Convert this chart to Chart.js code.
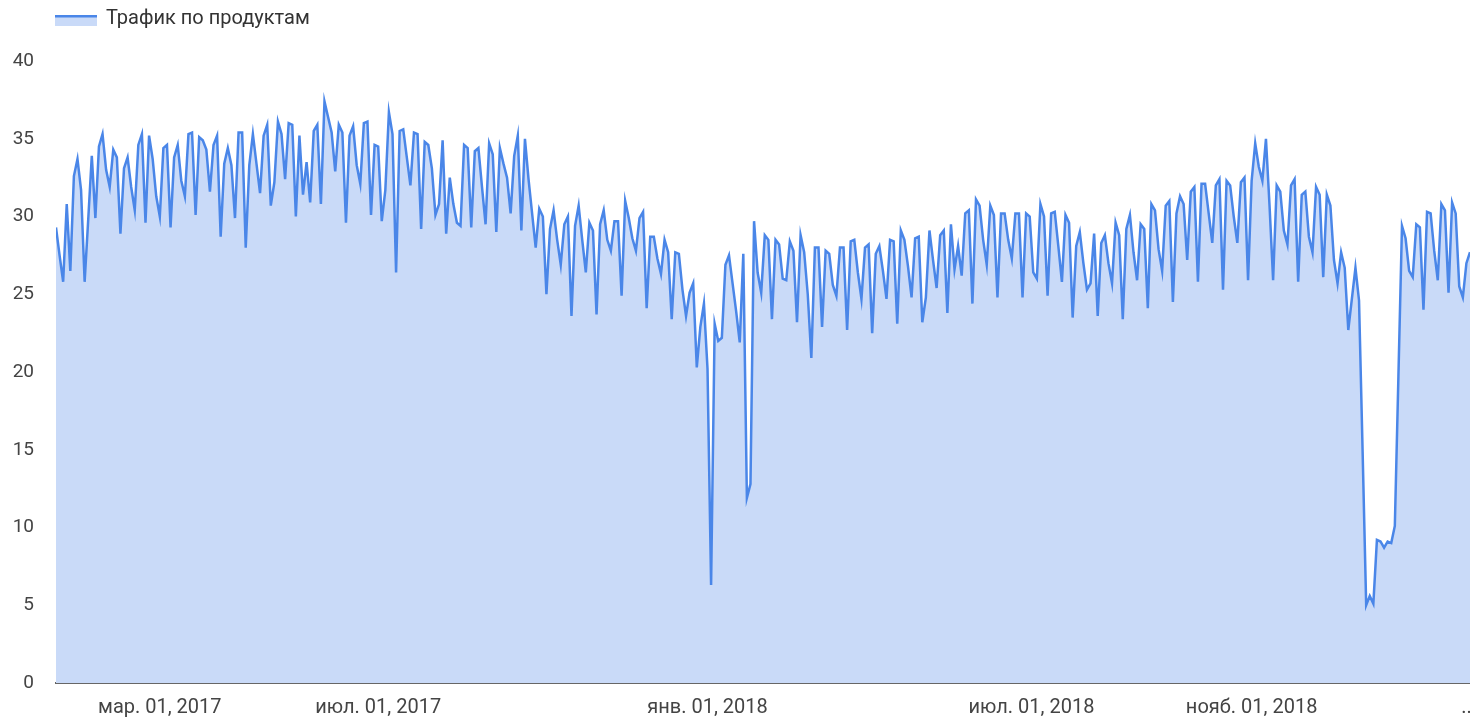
<!DOCTYPE html>
<html>
<head>
<meta charset="utf-8">
<script src="https://cdn.jsdelivr.net/npm/chart.js@4.4.1/dist/chart.umd.min.js"></script>
<style>
  html, body { margin: 0; padding: 0; background: #fff; }
  #wrap { width: 1470px; height: 717px; }
</style>
</head>
<body>
<div id="wrap"><canvas id="traffic"></canvas></div>
<script>
// one point every 2 days, first point = 02.01.2017
const stepDays = 2;
const seriesName = 'Трафик по продуктам';

const traffic = [
  29.3, 27.5, 25.8, 30.8, 26.5, 32.6, 33.7, 31.7, 25.8, 29.8,
  33.9, 29.9, 34.5, 35.3, 33.0, 31.9, 34.3, 33.8, 28.9, 33.1,
  33.8, 31.9, 30.4, 34.6, 35.3, 29.6, 35.2, 33.7, 31.3, 30.0,
  34.4, 34.6, 29.3, 33.8, 34.6, 32.3, 31.3, 35.3, 35.4, 30.1,
  35.1, 34.9, 34.3, 31.6, 34.6, 35.2, 28.7, 33.4, 34.4, 33.3,
  29.9, 35.4, 35.4, 28.0, 33.3, 35.3, 33.4, 31.5, 35.2, 35.9,
  30.7, 32.2, 36.1, 35.3, 32.4, 36.0, 35.9, 30.0, 35.2, 31.4,
  33.5, 30.9, 35.5, 35.9, 30.8, 37.4, 36.4, 35.4, 32.9, 35.9,
  35.4, 29.6, 35.2, 35.8, 33.3, 32.1, 36.0, 36.1, 30.1, 34.6,
  34.5, 29.7, 31.7, 36.7, 35.3, 26.4, 35.5, 35.6, 33.8, 32.0,
  35.4, 35.3, 29.2, 34.8, 34.6, 33.1, 30.1, 30.8, 34.9, 28.9,
  32.5, 30.8, 29.6, 29.4, 34.6, 34.4, 29.3, 34.2, 34.4, 31.9,
  29.5, 34.7, 34.0, 29.0, 34.4, 33.4, 32.5, 30.2, 33.9, 35.2,
  29.1, 35.0, 32.4, 30.2, 28.0, 30.5, 30.0, 25.0, 29.2, 30.4,
  28.5, 26.9, 29.5, 30.0, 23.6, 29.4, 30.7, 28.5, 26.4, 29.6,
  29.1, 23.7, 29.5, 30.4, 28.5, 27.8, 29.7, 29.7, 24.9, 31.0,
  29.9, 28.6, 27.8, 29.9, 30.3, 24.1, 28.7, 28.7, 27.3, 26.3,
  28.5, 27.7, 23.4, 27.7, 27.6, 25.3, 23.6, 25.1, 25.7, 20.3,
  22.9, 24.4, 20.2, 6.3, 23.1, 22.0, 22.2, 26.9, 27.5, 25.7,
  23.9, 21.9, 27.6, 11.9, 12.8, 29.7, 26.4, 25.1, 28.8, 28.5,
  23.4, 28.5, 28.2, 26.0, 25.9, 28.4, 27.8, 23.2, 28.8, 27.7,
  25.0, 20.9, 28.0, 28.0, 22.9, 27.8, 27.6, 25.6, 24.9, 28.0,
  28.0, 22.7, 28.4, 28.5, 26.4, 24.7, 28.0, 28.2, 22.5, 27.6,
  28.1, 26.5, 24.7, 28.5, 28.4, 23.1, 29.1, 28.5, 26.8, 24.8,
  28.6, 28.7, 23.2, 24.8, 29.1, 27.2, 25.4, 28.8, 29.1, 23.8,
  29.5, 26.6, 28.1, 26.2, 30.2, 30.4, 24.4, 31.1, 30.7, 28.5,
  26.9, 30.7, 30.1, 24.8, 30.2, 30.2, 28.5, 27.3, 30.2, 30.2,
  24.8, 30.2, 30.0, 26.4, 26.0, 30.8, 30.0, 24.9, 30.2, 30.3,
  28.1, 25.8, 30.1, 29.6, 23.5, 28.1, 29.0, 27.0, 25.3, 25.7,
  28.9, 23.6, 28.3, 28.8, 27.0, 25.7, 29.6, 28.8, 23.4, 29.2,
  30.1, 27.7, 25.9, 29.5, 29.2, 24.1, 30.8, 30.4, 27.9, 26.5,
  30.7, 31.0, 24.5, 30.2, 31.3, 30.8, 27.2, 31.6, 31.9, 25.8,
  32.1, 32.1, 30.2, 28.3, 32.0, 32.4, 25.3, 32.3, 32.0, 30.0,
  28.3, 32.2, 32.5, 25.9, 32.3, 34.7, 33.2, 32.3, 35.0, 30.7,
  25.9, 32.0, 31.6, 29.1, 28.2, 32.0, 32.4, 25.8, 31.4, 31.6,
  28.7, 27.7, 31.9, 31.4, 26.1, 31.4, 30.7, 27.2, 25.7, 27.7,
  26.7, 22.7, 24.7, 26.7, 24.6, 14.9, 5.0, 5.6, 5.1, 9.2,
  9.1, 8.7, 9.1, 9.0, 10.1, 19.7, 29.4, 28.6, 26.5, 26.1,
  29.5, 29.3, 24.0, 30.3, 30.2, 27.8, 25.9, 30.8, 30.4, 25.1,
  30.9, 30.2, 25.5, 24.8, 27.0, 27.7
];

// x tick positions in days from the first point, and their labels
const tickDays = [58, 180, 364, 545, 668, 788];
const tickLabels = ['мар. 01, 2017', 'июл. 01, 2017', 'янв. 01, 2018', 'июл. 01, 2018', 'нояб. 01, 2018', '..'];

const lineColor = '#4a86e8';
const fillColor = '#c9daf8';
const textColor = '#444';

const points = traffic.map((v, i) => ({ x: i * stepDays, y: v }));

// legend drawn by hand: filled swatch with a line on top, like Data Studio
const topLegend = {
    id: 'topLegend',
    afterDraw(chart) {
        const ctx = chart.ctx;
        const ds = chart.data.datasets[0];
        ctx.save();
        ctx.fillStyle = ds.backgroundColor;
        ctx.fillRect(55, 15, 42, 11);
        ctx.strokeStyle = ds.borderColor;
        ctx.lineWidth = 2.5;
        ctx.beginPath();
        ctx.moveTo(55, 16.2);
        ctx.lineTo(97, 16.2);
        ctx.stroke();
        ctx.fillStyle = '#333';
        ctx.font = '20px Roboto';
        ctx.textBaseline = 'middle';
        ctx.fillText(ds.label, 106, 19);
        ctx.restore();
    }
};

new Chart(document.getElementById('traffic'), {
    type: 'line',
    data: {
        datasets: [{
            label: seriesName,
            data: points,
            borderColor: lineColor,
            backgroundColor: fillColor,
            borderWidth: 2.5,
            fill: 'origin',
            pointRadius: 0,
            tension: 0
        }]
    },
    options: {
        responsive: true,
        maintainAspectRatio: false,
        animation: false,
        layout: { padding: { top: 61, left: 0, right: 0, bottom: 0 } },
        plugins: {
            legend: { display: false },
            tooltip: { enabled: false }
        },
        scales: {
            x: {
                type: 'linear',
                min: 0,
                max: (traffic.length - 1) * stepDays,
                afterBuildTicks: (scale) => {
                    scale.ticks = tickDays.map(d => ({ value: d }));
                },
                afterFit: (scale) => {
                    scale.height = 34;
                    // the last label is cut at the edge in the original, no extra room for it
                    scale.paddingLeft = 0;
                    scale.paddingRight = 0;
                },
                grid: { display: false, drawTicks: false },
                border: { display: true, color: '#666', width: 2 },
                ticks: {
                    autoSkip: false,
                    maxRotation: 0,
                    padding: 13,
                    color: textColor,
                    font: { family: 'Roboto', size: 20 },
                    callback: (value, index) => tickLabels[index]
                }
            },
            y: {
                min: 0,
                max: 40,
                afterFit: (scale) => { scale.width = 56; },
                grid: { display: false, drawTicks: false },
                border: { display: false },
                ticks: {
                    stepSize: 5,
                    padding: 22,
                    color: textColor,
                    font: { family: 'Roboto', size: 19 }
                }
            }
        }
    },
    plugins: [topLegend]
});
</script>
</body>
</html>
